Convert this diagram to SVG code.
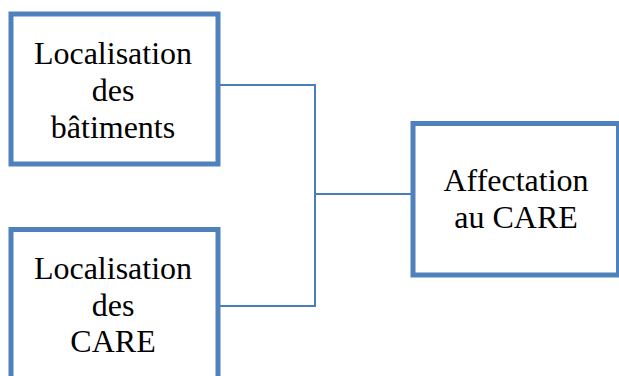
<svg xmlns="http://www.w3.org/2000/svg" width="619" height="376" viewBox="0 0 619 376">
<style>
.box{fill:#fff;stroke:#4F81BD;stroke-width:5}
.lbl{font-family:"Liberation Serif","Times New Roman",serif;font-size:32px;fill:#000;text-anchor:middle}
.conn{fill:none;stroke:#4A7EBB;stroke-width:2}
</style>
<rect width="619" height="376" fill="#fff"/>
<g id="connectors">
<polyline class="conn" points="220,85 315,85 315,306 220,306"/>
<line class="conn" x1="315" y1="194" x2="411" y2="194"/>
</g>
<g id="node-batiments">
<rect class="box" x="11" y="14" width="207" height="150"/>
<text class="lbl" x="113" y="63.5">Localisation</text>
<text class="lbl" x="113" y="100.5">des</text>
<text class="lbl" x="113" y="137.5">bâtiments</text>
</g>
<g id="node-care">
<rect class="box" x="11" y="229.5" width="207" height="160"/>
<text class="lbl" x="113" y="278.5">Localisation</text>
<text class="lbl" x="113" y="315.5">des</text>
<text class="lbl" x="113" y="352">CARE</text>
</g>
<g id="node-affectation">
<rect class="box" x="413" y="123.5" width="205.5" height="151.5"/>
<text class="lbl" x="516" y="191">Affectation</text>
<text class="lbl" x="516" y="227.5">au CARE</text>
</g>
</svg>
